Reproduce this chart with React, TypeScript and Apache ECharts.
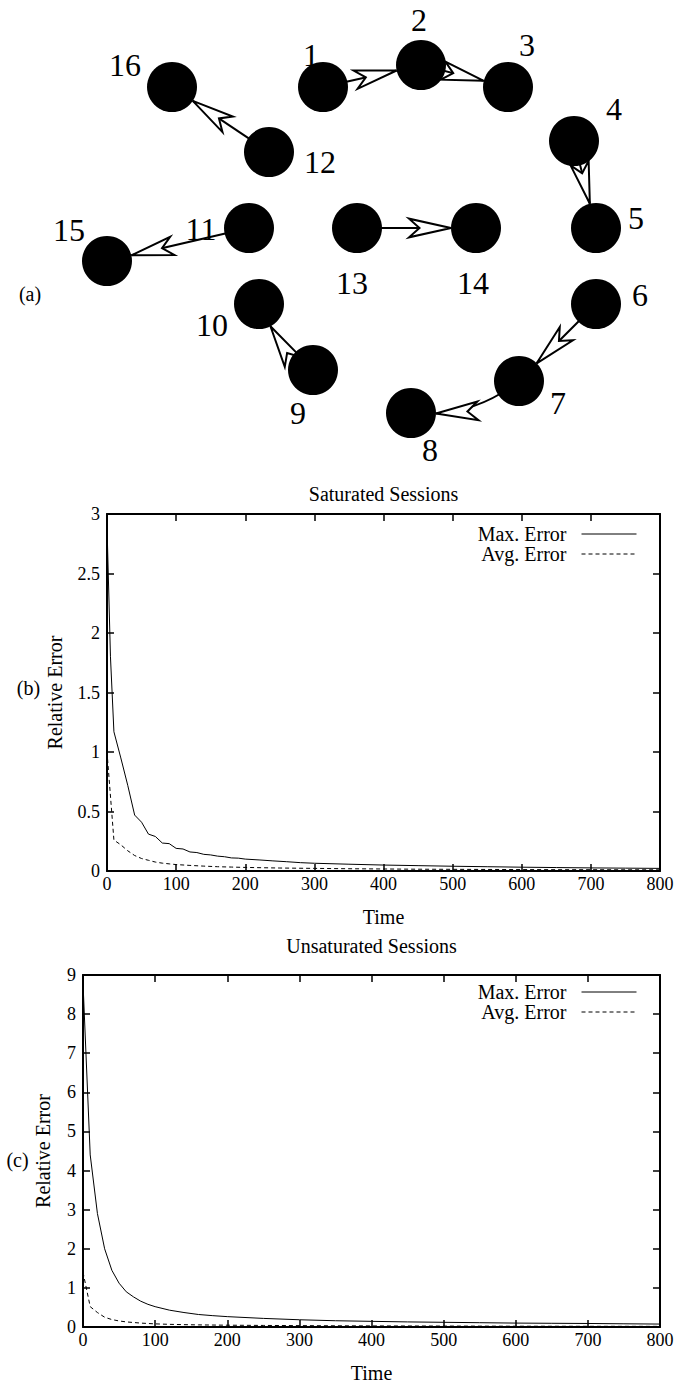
import React, { useEffect, useRef } from 'react';
import * as echarts from 'echarts';

const FONT = 'Liberation Serif, serif';

// ---------- (a) session graph ----------
const nodeNames = ['1', '2', '3', '4', '5', '6', '7', '8', '9', '10', '11', '12', '13', '14', '15', '16'];
const nodeX = [323, 421, 508, 574, 596, 596, 519, 411, 313, 259, 249, 269, 357, 476, 107, 172];
const nodeY = [87, 65, 87, 141, 228, 304, 381, 413, 370, 304, 228, 152, 228, 228, 261, 87];
const linkSource = ['1', '2', '4', '6', '7', '9', '11', '13', '12'];
const linkTarget = ['2', '3', '5', '7', '8', '10', '15', '14', '16'];
const linkCurve = [0, 0, 0, 0, 0.2, 0.15, 0, 0, 0];
const labelOffsets = [
  [-12, -32], [-2, -45], [19, -42], [40, -32], [40, -10], [44, -9], [39, 22], [19, 37],
  [-15, 43], [-47, 21], [-48, 1], [51, 10], [-5, 55], [-3, 55], [-38, -31], [-47, -22],
];

// ---------- (b) saturated sessions ----------
const satMaxTime = [0, 5, 10, 20, 30, 40, 50, 60, 70, 80, 90, 100, 110, 120, 130, 140, 150, 160, 170, 180, 190, 200, 220, 240, 260, 280, 300, 350, 400, 450, 500, 550, 600, 650, 700, 750, 800];
const satMax = [2.9, 1.8, 1.17, 0.95, 0.72, 0.47, 0.41, 0.31, 0.29, 0.235, 0.23, 0.19, 0.185, 0.16, 0.155, 0.14, 0.135, 0.125, 0.12, 0.11, 0.108, 0.1, 0.093, 0.085, 0.078, 0.07, 0.065, 0.057, 0.05, 0.045, 0.04, 0.036, 0.032, 0.029, 0.026, 0.024, 0.022];
const satAvgTime = [0, 10, 20, 30, 40, 50, 60, 70, 80, 90, 100, 120, 140, 160, 180, 200, 250, 300, 350, 400, 450, 500, 550, 600, 650, 700, 750, 800];
const satAvg = [1.0, 0.26, 0.22, 0.17, 0.13, 0.105, 0.09, 0.075, 0.066, 0.06, 0.054, 0.047, 0.041, 0.036, 0.033, 0.03, 0.025, 0.022, 0.019, 0.017, 0.015, 0.014, 0.013, 0.012, 0.011, 0.011, 0.01, 0.01];

// ---------- (c) unsaturated sessions ----------
const unsatTime = [0, 10, 20, 30, 40, 50, 60, 70, 80, 90, 100, 120, 140, 160, 180, 200, 250, 300, 350, 400, 450, 500, 550, 600, 650, 700, 750, 800];
const unsatMax = [8.8, 4.4, 2.9, 2.0, 1.45, 1.12, 0.9, 0.77, 0.66, 0.58, 0.52, 0.43, 0.37, 0.32, 0.29, 0.265, 0.22, 0.185, 0.16, 0.145, 0.13, 0.12, 0.11, 0.1, 0.095, 0.09, 0.082, 0.075];
const unsatAvg = [1.4, 0.52, 0.37, 0.25, 0.19, 0.155, 0.13, 0.115, 0.1, 0.09, 0.08, 0.068, 0.06, 0.054, 0.05, 0.046, 0.04, 0.035, 0.031, 0.028, 0.026, 0.024, 0.022, 0.02, 0.019, 0.018, 0.017, 0.016];

const xTicks = ['0', '100', '200', '300', '400', '500', '600', '700', '800'];
const seriesNames = ['Max. Error', 'Avg. Error'];

const zip = (xs: number[], ys: number[]) => xs.map((x, i) => [x, ys[i]]);

function buildOption() {
  const axisLine = { show: true, onZero: false, lineStyle: { color: '#000', width: 2 } };
  const axisTick = { show: true, inside: true, length: 7, lineStyle: { color: '#000', width: 1.5 } };
  const labelBase = { color: '#000', fontFamily: FONT, fontSize: 18 };
  const nameStyle = { color: '#000', fontFamily: FONT, fontSize: 20 };

  const xBottom = (gridIndex: number) => ({
    gridIndex, type: 'value', min: 0, max: 800, interval: 100, position: 'bottom',
    name: 'Time', nameLocation: 'middle', nameGap: 36, nameTextStyle: nameStyle,
    axisLine, axisTick, splitLine: { show: false },
    axisLabel: { ...labelBase, margin: 4, formatter: (v: number) => xTicks[Math.round(v / 100)] ?? String(v) },
  });
  const xTop = (gridIndex: number) => ({
    gridIndex, type: 'value', min: 0, max: 800, interval: 100, position: 'top',
    axisLine, axisTick, splitLine: { show: false }, axisLabel: { show: false },
  });
  const yLeft = (gridIndex: number, max: number, interval: number, gap: number) => ({
    gridIndex, type: 'value', min: 0, max, interval, position: 'left',
    name: 'Relative Error', nameLocation: 'middle', nameGap: gap, nameTextStyle: nameStyle,
    axisLine, axisTick, splitLine: { show: false },
    axisLabel: { ...labelBase, margin: 7 },
  });
  const yRight = (gridIndex: number, max: number, interval: number) => ({
    gridIndex, type: 'value', min: 0, max, interval, position: 'right',
    axisLine, axisTick, splitLine: { show: false }, axisLabel: { show: false },
  });

  const lineSeries = (name: string, xi: number, data: number[][], dashed: boolean) => ({
    type: 'line', name, xAxisIndex: xi, yAxisIndex: xi, data,
    symbol: 'none', showSymbol: false, silent: true,
    itemStyle: { color: '#000', opacity: 0 },
    lineStyle: { color: '#000', width: 1, type: dashed ? [4, 3] : 'solid' },
  });

  const legend = (top: number) => ({
    data: seriesNames, orient: 'vertical', align: 'right', right: 40, top, padding: 0,
    itemGap: 0, itemWidth: 55, itemHeight: 20, selectedMode: false,
    itemStyle: { opacity: 0 },
    lineStyle: { color: '#000', width: 1 },
    textStyle: { fontFamily: FONT, fontSize: 20, color: '#000', padding: [0, 10, 0, 0] },
  });

  const txt = (text: string, x: number, y: number, size: number) => ({
    type: 'text', x, y, silent: true,
    style: { text, fill: '#000', font: `${size}px ${FONT}`, align: 'center', verticalAlign: 'middle' },
  });

  return {
    animation: false,
    backgroundColor: '#fff',
    grid: [
      { left: 0, top: 0, width: 677, height: 470 },
      { left: 107, top: 514, width: 553, height: 357 },
      { left: 83, top: 975, width: 577, height: 353 },
    ],
    xAxis: [
      { gridIndex: 0, type: 'value', min: 0, max: 677, show: false },
      xBottom(1), xTop(1), xBottom(2), xTop(2),
    ],
    yAxis: [
      { gridIndex: 0, type: 'value', min: 0, max: 470, inverse: true, show: false },
      yLeft(1, 3, 0.5, 42), yRight(1, 3, 0.5), yLeft(2, 9, 1, 30), yRight(2, 9, 1),
    ],
    legend: [legend(524), legend(982)],
    graphic: [
      txt('(a)', 30, 294, 20),
      txt('(b)', 28.5, 688, 20),
      txt('(c)', 17.5, 1160, 20),
      txt('Saturated Sessions', 383.5, 494, 20),
      txt('Unsaturated Sessions', 371.5, 946, 20),
    ],
    series: [
      {
        type: 'graph', coordinateSystem: 'cartesian2d', xAxisIndex: 0, yAxisIndex: 0,
        silent: true, symbol: 'circle', symbolSize: 50,
        itemStyle: { color: '#000' },
        label: { show: true, position: 'inside', formatter: '{b}', color: '#000', fontFamily: FONT, fontSize: 32 },
        edgeSymbol: ['none', 'emptyArrow'],
        edgeSymbolSize: [0, [14, 42]],
        lineStyle: { color: '#000', width: 2, opacity: 1 },
        data: nodeNames.map((n, i) => ({
          name: n, value: [nodeX[i], nodeY[i]],
          label: { offset: labelOffsets[i] },
        })),
        links: linkSource.map((s, i) => ({
          source: s, target: linkTarget[i],
          lineStyle: { curveness: linkCurve[i] },
        })),
      },
      lineSeries('Max. Error', 1, zip(satMaxTime, satMax), false),
      lineSeries('Avg. Error', 1, zip(satAvgTime, satAvg), true),
      lineSeries('Max. Error', 3, zip(unsatTime, unsatMax), false),
      lineSeries('Avg. Error', 3, zip(unsatTime, unsatAvg), true),
    ],
  };
}

export default function App() {
  const ref = useRef<HTMLDivElement>(null);
  useEffect(() => {
    if (!ref.current) return;
    const chart = echarts.init(ref.current, null, { renderer: 'svg' });
    chart.setOption(buildOption() as any);
    return () => chart.dispose();
  }, []);
  return (
    <div
      ref={ref}
      style={{ position: 'absolute', left: 0, top: 0, width: 677, height: 1384, background: '#fff' }}
    />
  );
}
